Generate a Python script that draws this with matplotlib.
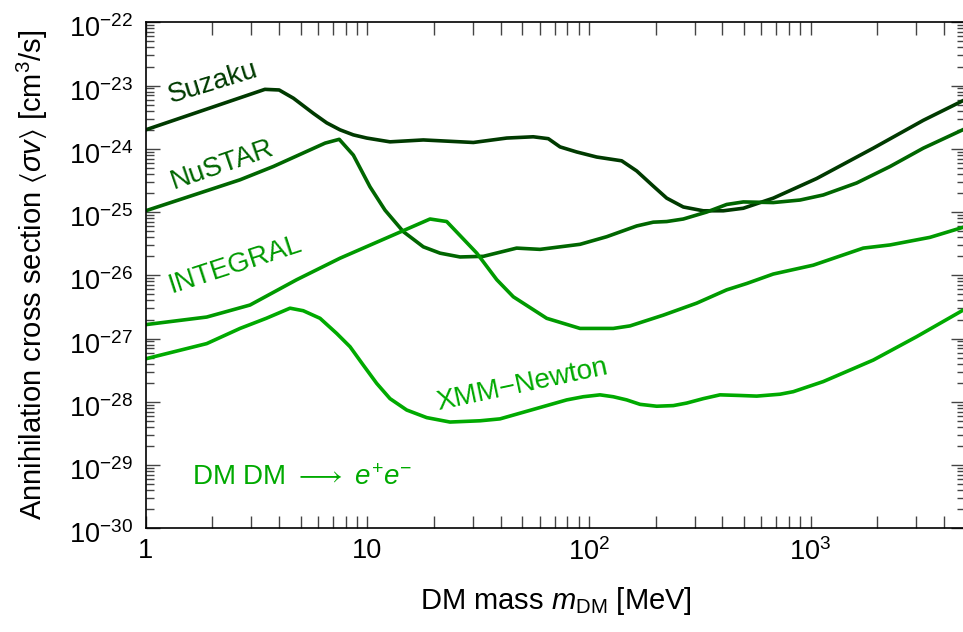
import numpy as np
import matplotlib.pyplot as plt
from matplotlib.ticker import LogLocator, FixedLocator, FuncFormatter, NullFormatter
from matplotlib.transforms import ScaledTranslation

plt.rcParams['font.family'] = ['Liberation Sans', 'DejaVu Sans']
plt.rcParams['mathtext.fontset'] = 'custom'
plt.rcParams['mathtext.rm'] = 'Liberation Sans'
plt.rcParams['mathtext.it'] = 'Liberation Sans:italic'
plt.rcParams['mathtext.fallback'] = 'stix'

# (mass in MeV, log10 of <sigma v> in cm^3/s)
suzaku_m = [1, 3.45, 4.0, 4.64, 5.71, 6.56, 7.53, 8.65, 9.94, 12.66, 17.9, 30.1, 42.6, 56.1,
            65.6, 74.1, 88.1, 108.4, 140.6, 164.3, 195.2, 224.4, 266.7, 328.2, 404.2, 497.5,
            679.3, 1066, 1920, 3228, 5000]
suzaku_logsv = [-23.70, -23.06, -23.07, -23.20, -23.44, -23.59, -23.70, -23.78, -23.83, -23.89,
                -23.86, -23.90, -23.83, -23.81, -23.84, -23.97, -24.05, -24.13, -24.19, -24.35,
                -24.59, -24.78, -24.92, -24.98, -24.98, -24.94, -24.78, -24.47, -23.99, -23.55,
                -23.22]

nustar_m = [1, 2.665, 3.765, 6.45, 7.47, 8.65, 10.28, 12.02, 14.54, 17.9, 21.3, 26.2, 33.4,
            47.2, 60.2, 91.2, 120.3, 164.3, 195.2, 224.4, 266.7, 340, 418.6, 497.5, 679,
            897, 1142, 1616, 2285, 3228, 5000]
nustar_logsv = [-24.98, -24.49, -24.28, -23.91, -23.85, -24.10, -24.60, -24.97, -25.31, -25.55,
                -25.65, -25.71, -25.70, -25.57, -25.59, -25.51, -25.39, -25.22, -25.16, -25.15,
                -25.11, -25.00, -24.88, -24.84, -24.85, -24.81, -24.73, -24.54, -24.28, -23.99,
                -23.68]

integral_m = [1, 1.885, 2.956, 4.80, 7.53, 19.19, 22.82, 31.2, 38.4, 45.6, 64.5, 91.2, 128.8,
              153.3, 216.6, 306.6, 418.6, 515, 679, 1029, 1730, 2285, 3460, 5000]
integral_logsv = [-26.78, -26.66, -26.47, -26.07, -25.73, -25.11, -25.15, -25.65, -26.07, -26.34,
                  -26.68, -26.84, -26.84, -26.80, -26.63, -26.44, -26.23, -26.13, -25.98, -25.84,
                  -25.57, -25.52, -25.40, -25.23]

xmm_m = [1, 1.885, 2.665, 3.5, 4.48, 5.14, 6.12, 7.28, 8.36, 9.59, 11.03, 12.66, 15.06, 18.54,
         23.6, 32.3, 39.7, 60.2, 79.4, 94.3, 112.2, 128.8, 148.1, 170.1, 202.3, 240.4, 276.2,
         328.2, 390.6, 480.8, 571.6, 728.7, 836, 1142, 1920, 3014, 5000]
xmm_logsv = [-27.32, -27.08, -26.84, -26.68, -26.52, -26.56, -26.68, -26.92, -27.13, -27.42,
             -27.71, -27.95, -28.13, -28.25, -28.32, -28.30, -28.27, -28.09, -27.97, -27.92,
             -27.89, -27.92, -27.97, -28.04, -28.07, -28.06, -28.02, -27.95, -27.89, -27.90,
             -27.91, -27.88, -27.84, -27.68, -27.34, -26.97, -26.53]

series = [
    ('Suzaku', suzaku_m, suzaku_logsv, '#003a00'),
    ('NuSTAR', nustar_m, nustar_logsv, '#006600'),
    ('INTEGRAL', integral_m, integral_logsv, '#009a00'),
    ('XMM\u2212Newton', xmm_m, xmm_logsv, '#00aa00'),
]

# label placement: (mass, log10 sigma v, rotation)
label_pos = {
    'Suzaku': (2.01, -22.96, 17),
    'NuSTAR': (2.21, -24.26, 19),
    'INTEGRAL': (2.53, -25.84, 18),
    'XMM\u2212Newton': (49.9, -27.73, 12),
}

fig = plt.figure(figsize=(9.63, 6.32), dpi=100)
ax = fig.add_axes([145.7 / 963, 1 - 528.3 / 632, (965.4 - 145.7) / 963, (528.3 - 22.3) / 632])

for name, m, logsv, col in series:
    ax.plot(m, 10.0 ** np.array(logsv), color=col, lw=2.6, solid_joinstyle='round')
    lx, ly, rot = label_pos[name]
    ax.text(lx, 10.0 ** ly, name, color=col, fontsize=20, rotation=rot,
            ha='center', va='center', rotation_mode='anchor')

ax.text(1.61, 10.0 ** -29.2, r'DM DM $\longrightarrow$ $e^{+}e^{-}$', color='#00aa00',
        fontsize=20, ha='left', va='center')

ax.set_xscale('log')
ax.set_yscale('log')
ax.set_xlim(1, 5000)
ax.set_ylim(1e-30, 1e-22)

ax.xaxis.set_major_locator(FixedLocator([1, 10, 100, 1000]))
xlabels = {1: '1', 10: '10', 100: r'$10^{2}$', 1000: r'$10^{3}$'}
ax.xaxis.set_major_formatter(FuncFormatter(lambda v, p: xlabels.get(int(round(v)), '')))
ax.xaxis.set_minor_locator(LogLocator(base=10, subs=np.arange(2, 10), numticks=20))
ax.xaxis.set_minor_formatter(NullFormatter())

ax.yaxis.set_major_locator(LogLocator(base=10, numticks=20))
ax.yaxis.set_major_formatter(FuncFormatter(lambda v, p: r'$10^{%d}$' % int(round(np.log10(v)))))
ax.yaxis.set_minor_locator(LogLocator(base=10, subs=np.arange(2, 10), numticks=20))
ax.yaxis.set_minor_formatter(NullFormatter())

ax.tick_params(axis='both', which='both', direction='in', top=True, right=True,
               labelsize=19.5, color='#444444', width=1)
ax.tick_params(axis='x', which='both', length=9, pad=7)
ax.tick_params(axis='y', which='major', length=10, pad=9)
ax.tick_params(axis='y', which='minor', length=6)

for s in ax.spines.values():
    s.set_linewidth(1.2)

ax.set_xlabel(r'DM mass $m_{\mathrm{DM}}$ [MeV]', fontsize=21, labelpad=14)
ax.set_ylabel(r'Annihilation cross section $\langle\sigma v\rangle$ [cm$^3$/s]', fontsize=21,
              labelpad=14)

# nudge y tick labels down a little, as in the original
fig.canvas.draw()
shift = ScaledTranslation(0, -3 / 72, fig.dpi_scale_trans)
for lab in ax.yaxis.get_majorticklabels():
    lab.set_transform(lab.get_transform() + shift)

fig.savefig('out.png', dpi=100)
